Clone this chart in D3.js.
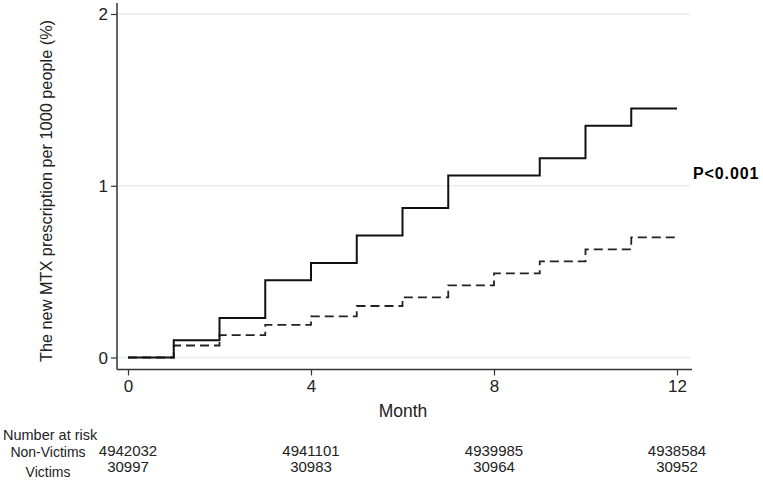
<!DOCTYPE html>
<html>
<head>
<meta charset="utf-8">
<script src="https://cdn.jsdelivr.net/npm/d3@7"></script>
<style>
  body { margin: 0; background: #fff; }
  text { font-family: "Liberation Sans", Arial, sans-serif; fill: #222; }
</style>
</head>
<body>
<div id="chart"></div>
<script>
const months = [0, 1, 2, 3, 4, 5, 6, 7, 8, 9, 10, 11, 12]
// cumulative rate at the start of each month (step after)
const victims = [0, 0.10, 0.23, 0.45, 0.55, 0.71, 0.87, 1.06, 1.06, 1.16, 1.35, 1.45, 1.45]
const nonVictims = [0, 0.07, 0.13, 0.19, 0.24, 0.30, 0.35, 0.42, 0.49, 0.56, 0.63, 0.70, 0.70]
const xTicks = [0, 4, 8, 12]
const yTicks = [0, 1, 2]
const riskGroups = ["Non-Victims", "Victims"]
const riskNonVictims = [4942032, 4941101, 4939985, 4938584]
const riskVictims = [30997, 30983, 30964, 30952]

let margin = {top: 14, left: 117, right: 73, bottom: 124},
    width = 763,
    height = 482

let svg = d3.select("#chart")
            .append('svg')
            .attr('width', width)
            .attr('height', height)

let x = d3.scaleLinear().domain([0, 12]).range([128, 677])
let y = d3.scaleLinear().domain([0, 2]).range([357.5, 14])

// gridlines
svg.append('g')
   .selectAll('line')
   .data(yTicks)
   .enter()
   .append('line')
   .attr('x1', margin.left + 1)
   .attr('x2', 690)
   .attr('y1', d => y(d))
   .attr('y2', d => y(d))
   .attr('stroke', '#e8eded')
   .attr('stroke-width', 1.5)

// y axis
let yAxis = svg.append('g')
   .attr('transform', "translate(" + margin.left + ",0)")
   .call(d3.axisLeft(y).tickValues(yTicks).tickFormat(d3.format("d")).tickSize(6).tickSizeOuter(0))
yAxis.select('.domain').attr('d', "M0,3V369.5").attr('stroke', '#333').attr('stroke-width', 1.5)
yAxis.selectAll('.tick line').attr('stroke', '#333').attr('stroke-width', 1.2)
yAxis.selectAll('text').style('font-size', '17px').attr('x', -9).attr('dy', '0.35em')

// x axis
let xAxis = svg.append('g')
   .attr('transform', "translate(0,369.5)")
   .call(d3.axisBottom(x).tickValues(xTicks).tickSize(6).tickSizeOuter(0))
xAxis.select('.domain').attr('d', "M" + margin.left + ",0H692").attr('stroke', '#333').attr('stroke-width', 1.5)
xAxis.selectAll('.tick line').attr('stroke', '#333').attr('stroke-width', 1.2)
xAxis.selectAll('text').style('font-size', '17px').attr('y', 10)

// titles
svg.append('text')
   .attr('transform', "translate(52,191)rotate(-90)")
   .attr('text-anchor', 'middle')
   .style('font-size', '16.3px')
   .text("The new MTX prescription per 1000 people (%)")

svg.append('text')
   .attr('x', 403)
   .attr('y', 417)
   .attr('text-anchor', 'middle')
   .style('font-size', '17.5px')
   .text("Month")

// step lines
let line = d3.line()
             .x(d => x(d[0]))
             .y(d => y(d[1]))
             .curve(d3.curveStepAfter)

svg.append('path')
   .datum(months.map((m, i) => [m, nonVictims[i]]))
   .attr('d', line)
   .attr('fill', 'none')
   .attr('stroke', '#222')
   .attr('stroke-width', 1.8)
   .attr('stroke-dasharray', '9,5')

svg.append('path')
   .datum(months.map((m, i) => [m, victims[i]]))
   .attr('d', line)
   .attr('fill', 'none')
   .attr('stroke', '#111')
   .attr('stroke-width', 2)

svg.append('text')
   .attr('x', 693)
   .attr('y', 179)
   .style('font-size', '16px')
   .style('letter-spacing', '0.9px')
   .style('font-weight', 'bold')
   .style('fill', '#000')
   .text("P<0.001")

// number at risk table
svg.append('text')
   .attr('x', 3)
   .attr('y', 440)
   .style('font-size', '14.5px')
   .text("Number at risk")

let rows = [riskNonVictims, riskVictims]
let labelY = [457, 477], numY = [456, 472]
rows.forEach(function(row, r) {
    svg.append('text')
       .attr('x', 48)
       .attr('y', labelY[r])
       .attr('text-anchor', 'middle')
       .style('font-size', '14px')
       .text(riskGroups[r])
    svg.append('g')
       .selectAll('text')
       .data(row)
       .enter()
       .append('text')
       .attr('x', (d, i) => x(xTicks[i]))
       .attr('y', numY[r])
       .attr('text-anchor', 'middle')
       .style('font-size', '15px')
       .text(d => d)
})
</script>
</body>
</html>
